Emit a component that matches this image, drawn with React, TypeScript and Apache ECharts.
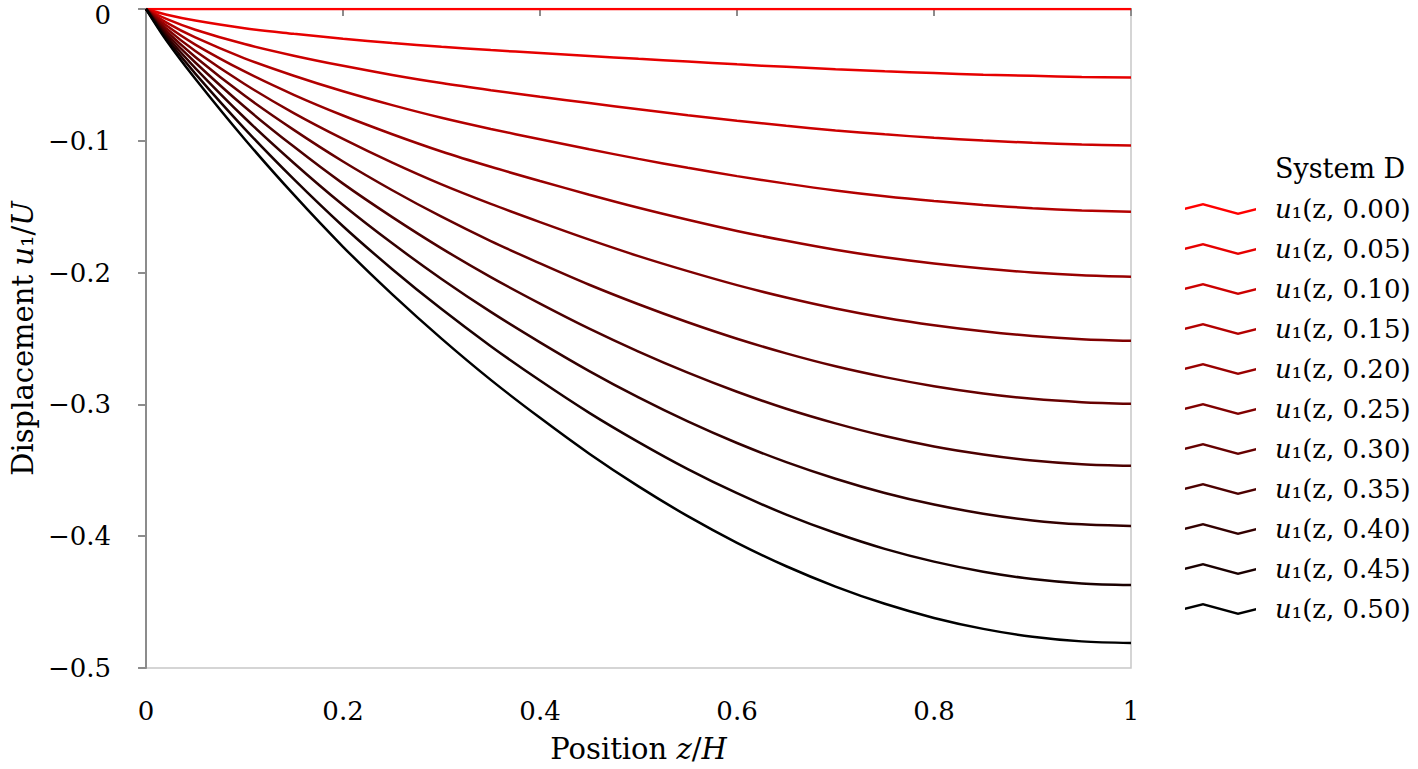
import React, { useEffect, useRef } from 'react';
import * as echarts from 'echarts';

const zPos = [0, 0.02, 0.05, 0.1, 0.15, 0.2, 0.25, 0.3, 0.35, 0.4, 0.45, 0.5, 0.55, 0.6, 0.65, 0.7, 0.75, 0.8, 0.85, 0.9, 0.95, 1.0];
const times = ['0.00', '0.05', '0.10', '0.15', '0.20', '0.25', '0.30', '0.35', '0.40', '0.45', '0.50'];

const u000 = [0, 0, 0, 0, 0, 0, 0, 0, 0, 0, 0, 0, 0, 0, 0, 0, 0, 0, 0, 0, 0, 0];
const u005 = [0, -0.0042, -0.0088, -0.0146, -0.0188, -0.0226, -0.0258, -0.0287, -0.0312, -0.0334, -0.0356, -0.0378, -0.0399, -0.042, -0.0439, -0.0457, -0.0473, -0.0486, -0.0498, -0.0507, -0.0515, -0.052];
const u010 = [0, -0.0073, -0.0157, -0.0266, -0.0354, -0.0431, -0.05, -0.0562, -0.0616, -0.0666, -0.0714, -0.0761, -0.0806, -0.0848, -0.0886, -0.0921, -0.0951, -0.0977, -0.0998, -0.1015, -0.1028, -0.1036];
const u015 = [0, -0.0099, -0.0216, -0.0374, -0.0506, -0.0624, -0.0729, -0.0825, -0.091, -0.0988, -0.1064, -0.1137, -0.1205, -0.1268, -0.1325, -0.1377, -0.1421, -0.1457, -0.1487, -0.1511, -0.1528, -0.1538];
const u020 = [0, -0.0122, -0.027, -0.0474, -0.0651, -0.0808, -0.095, -0.1081, -0.1197, -0.1305, -0.1409, -0.1508, -0.1599, -0.1684, -0.1759, -0.1827, -0.1884, -0.1931, -0.1969, -0.1999, -0.202, -0.2031];
const u025 = [0, -0.0143, -0.0319, -0.0569, -0.079, -0.0986, -0.1166, -0.1331, -0.1479, -0.1617, -0.175, -0.1875, -0.1989, -0.2095, -0.2189, -0.2272, -0.2342, -0.2399, -0.2445, -0.2481, -0.2505, -0.2517];
const u030 = [0, -0.0162, -0.0364, -0.0657, -0.0917, -0.1157, -0.1375, -0.1576, -0.1761, -0.193, -0.2092, -0.224, -0.2377, -0.2502, -0.2613, -0.2711, -0.2793, -0.2862, -0.2917, -0.2958, -0.2983, -0.2995];
const u035 = [0, -0.018, -0.0406, -0.0742, -0.1044, -0.1325, -0.1579, -0.1816, -0.2034, -0.2235, -0.2425, -0.2599, -0.2759, -0.2904, -0.3033, -0.3144, -0.324, -0.3319, -0.338, -0.3426, -0.3454, -0.3466];
const u040 = [0, -0.0197, -0.0448, -0.0825, -0.1168, -0.1487, -0.1778, -0.2048, -0.2298, -0.2529, -0.2747, -0.2947, -0.3129, -0.3293, -0.3438, -0.3564, -0.3672, -0.376, -0.3829, -0.388, -0.391, -0.3922];
const u045 = [0, -0.0215, -0.049, -0.0907, -0.1291, -0.1648, -0.1974, -0.2277, -0.2558, -0.2819, -0.3064, -0.3286, -0.3491, -0.3674, -0.3836, -0.3976, -0.4096, -0.4193, -0.4269, -0.4325, -0.4358, -0.437];
const u050 = [0, -0.0231, -0.0529, -0.0986, -0.1409, -0.1804, -0.2165, -0.2501, -0.2814, -0.3102, -0.3374, -0.3622, -0.3848, -0.405, -0.4228, -0.4382, -0.4513, -0.462, -0.4703, -0.4763, -0.4798, -0.481];

const seriesValues = [u000, u005, u010, u015, u020, u025, u030, u035, u040, u045, u050];
const lineColors = ['#ff0000', '#e60000', '#cc0000', '#b30000', '#990000', '#800000', '#660000', '#4d0000', '#330000', '#1a0000', '#000000'];

const xTickLabels = ['0', '0.2', '0.4', '0.6', '0.8', '1'];
const yTickLabels = ['0', '\u22120.1', '\u22120.2', '\u22120.3', '\u22120.4', '\u22120.5'];

const FONT = '"DejaVu Serif", "Liberation Serif", serif';
const AXIS_GRAY = '#8c8c8c';
const FRAME_GRAY = '#c8c8c8';

// zig-zag legend glyph drawn as a thin filled band
const LEGEND_ICON = 'path://M0,4.7 L18,0 L53,9.7 L71,5 L71,7.5 L53,12.2 L18,2.5 L0,7.2 Z';

export default function App() {
  const ref = useRef<HTMLDivElement>(null);

  useEffect(() => {
    document.body.style.margin = '0';
    if (!ref.current) return;
    const chart = echarts.init(ref.current, null, { renderer: 'svg' });

    const series = seriesValues.map((vals, k) => ({
      type: 'line',
      name: 'u\u2081(z, ' + times[k] + ')',
      data: zPos.map((z, i) => [z, vals[i]]),
      showSymbol: false,
      symbol: 'none',
      smooth: 0.33,
      lineStyle: { color: lineColors[k], width: 2.5 },
      itemStyle: { color: lineColors[k] },
      z: 3,
    }));

    chart.setOption({
      animation: false,
      grid: {
        left: 145,
        right: 287,
        top: 9,
        bottom: 101,
        show: true,
        borderColor: FRAME_GRAY,
        borderWidth: 1.5,
        containLabel: false,
      },
      xAxis: {
        type: 'value',
        min: 0,
        max: 1,
        interval: 0.2,
        offset: 18,
        axisLine: { show: true, lineStyle: { color: AXIS_GRAY, width: 2 } },
        axisTick: { show: true, length: 7, lineStyle: { color: AXIS_GRAY, width: 2 } },
        splitLine: { show: false },
        axisLabel: {
          color: '#000',
          fontFamily: FONT,
          fontSize: 26,
          margin: 12,
          formatter: (v: number) => xTickLabels[Math.round(v / 0.2)] ?? '',
        },
        name: 'Position {i|z}/{i|H}',
        nameLocation: 'middle',
        nameGap: 48,
        nameTextStyle: {
          color: '#000',
          fontFamily: FONT,
          fontSize: 29,
          rich: { i: { fontStyle: 'italic', fontFamily: FONT, fontSize: 29, color: '#000' } },
        },
      },
      yAxis: {
        type: 'value',
        min: -0.5,
        max: 0,
        interval: 0.1,
        offset: 18,
        axisLine: { show: true, lineStyle: { color: AXIS_GRAY, width: 2 } },
        axisTick: { show: true, length: 8, lineStyle: { color: AXIS_GRAY, width: 2 } },
        splitLine: { show: false },
        axisLabel: {
          color: '#000',
          fontFamily: FONT,
          fontSize: 26,
          lineHeight: 12,
          margin: 17,
          verticalAlignMaxLabel: 'top',
          formatter: (v: number) => yTickLabels[Math.round(-v * 10)] ?? '',
        },
        name: 'Displacement {i|u}\u2081/{i|U}',
        nameLocation: 'middle',
        nameGap: 90,
        nameTextStyle: {
          color: '#000',
          fontFamily: FONT,
          fontSize: 29,
          rich: { i: { fontStyle: 'italic', fontFamily: FONT, fontSize: 29, color: '#000' } },
        },
      },
      legend: {
        orient: 'vertical',
        left: 1185,
        top: 194,
        padding: 0,
        itemGap: 10,
        itemWidth: 71,
        itemHeight: 12.2,
        selectedMode: false,
        icon: LEGEND_ICON,
        itemStyle: { borderWidth: 0 },
        textStyle: {
          color: '#000',
          fontFamily: FONT,
          fontSize: 26,
          lineHeight: 30,
          padding: [0, 0, 0, 14],
          rich: { i: { fontStyle: 'italic', fontFamily: FONT, fontSize: 26, lineHeight: 30, color: '#000' } },
        },
        formatter: (name: string) => '{i|u}' + name.slice(1),
        data: series.map((s) => s.name),
      },
      graphic: [
        {
          type: 'text',
          x: 1275,
          y: 168,
          style: {
            text: 'System D',
            fill: '#000',
            font: '27px ' + FONT,
            verticalAlign: 'middle',
          },
        },
      ],
      series,
    });

    return () => {
      chart.dispose();
    };
  }, []);

  return <div ref={ref} style={{ width: 1418, height: 769 }} />;
}
